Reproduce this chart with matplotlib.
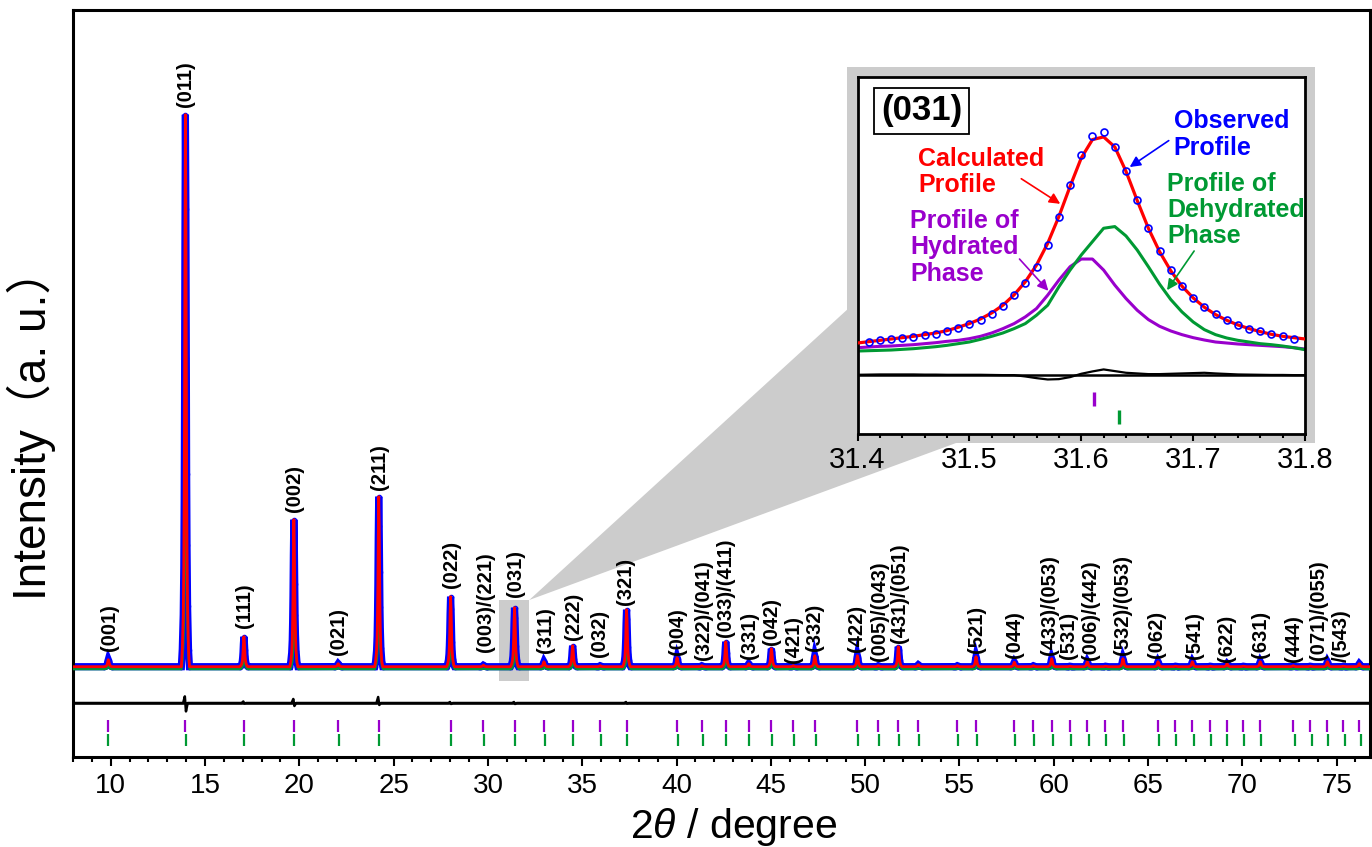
import numpy as np
import matplotlib
matplotlib.use("Agg")
import matplotlib.pyplot as plt
from matplotlib.patches import Rectangle, Polygon

plt.rcParams['font.family'] = ['Liberation Sans', 'Noto Sans CJK SC', 'DejaVu Sans']
plt.rcParams['mathtext.fontset'] = 'custom'
plt.rcParams['mathtext.it'] = 'Liberation Sans:italic'
plt.rcParams['mathtext.rm'] = 'Liberation Sans'

# ---------------- data : main pattern ----------------
background = 1000
# reflection positions of the hydrated phase (purple ticks)
hyd_ticks = [9.87, 13.96, 17.06, 19.71, 22.06, 24.21, 28.02, 29.76, 31.41, 32.97,
             34.49, 35.95, 37.35, 40.03, 41.34, 42.61, 43.83, 45.03, 46.19, 47.33,
             49.59, 50.70, 51.76, 52.82, 54.89, 55.88, 57.91, 58.92, 59.89, 60.85,
             61.78, 62.74, 63.67, 65.53, 66.45, 67.35, 68.29, 69.19, 70.05, 70.95,
             72.70, 73.59, 74.51, 75.35, 76.20]
# reflection positions of the dehydrated phase (green ticks)
dehyd_ticks = [9.88, 13.97, 17.07, 19.74, 22.08, 24.22, 28.04, 29.78, 31.44, 33.01,
               34.52, 35.98, 37.38, 40.07, 41.38, 42.63, 43.85, 45.07, 46.22, 47.37,
               49.62, 50.74, 51.81, 52.87, 54.95, 55.95, 57.97, 58.98, 59.95, 60.89,
               61.85, 62.79, 63.72, 65.57, 66.51, 67.44, 68.33, 69.21, 70.11, 71.01,
               72.81, 73.67, 74.56, 75.44, 76.29]
# peak heights above background at each reflection
peak_height = [700, 55200, 3000, 14700, 300, 17000, 7000, 150, 5900, 500,
               2100, 100, 5700, 900, 100, 2500, 300, 1800, 100, 1100,
               1100, 100, 2000, 200, 100, 1000, 450, 100, 800, 50,
               500, 50, 800, 500, 50, 500, 50, 300, 50, 500,
               100, 50, 500, 50, 300]
dehyd_share = 0.5
# peak profile (offset in degrees, fraction of height) read from the (031) inset
shape_offset = [-0.215, -0.165, -0.115, -0.085, -0.065, -0.045, -0.025, 0.0,
                0.025, 0.045, 0.065, 0.085, 0.115, 0.165, 0.215]
shape_frac = [0.0, 0.032, 0.094, 0.18, 0.30, 0.48, 0.76, 1.0,
              0.83, 0.56, 0.35, 0.22, 0.11, 0.03, 0.0]

# difference curve
diff_level = -2630
diff_pos = [13.96, 17.06, 19.71, 24.21, 28.02, 31.41, 37.35]
diff_up = [660, 150, 400, 600, 100, 100, 100]
diff_down = [840, 50, 300, 200, 100, 100, 50]

hyd_tick_y = -4930
dehyd_tick_y = -6280

# reflection labels
label_text = ['(001)', '(011)', '(111)', '(002)', '(021)', '(211)', '(022)', '(003)/(221)',
              '(031)', '(311)', '(222)', '(032)', '(321)', '(004)', '(322)/(041)',
              '(033)/(411)', '(331)', '(042)', '(421)', '(332)', '(422)', '(005)/(043)',
              '(431)/(051)', '(521)', '(044)', '(433)/(053)', '(531)', '(006)/(442)',
              '(532)/(053)', '(062)', '(541)', '(622)', '(631)', '(444)', '(071)/(055)',
              '/(543)']
label_x = [9.91, 13.99, 17.07, 19.72, 22.10, 24.23, 28.08, 29.85, 31.44, 33.03,
           34.53, 35.94, 37.32, 40.04, 41.42, 42.61, 43.86, 45.01, 46.19, 47.34,
           49.55, 50.74, 51.80, 55.92, 57.91, 59.80, 60.81, 61.96, 63.64, 65.46,
           67.44, 69.14, 70.98, 72.74, 74.05, 75.27]
label_y = [2600, 56970, 4870, 16500, 2170, 18700, 8870, 2470, 7970, 2400,
           3650, 2000, 7170, 2170, 1670, 4000, 1740, 3170, 1400, 2570,
           2500, 1600, 3340, 2340, 1840, 2170, 1740, 1670, 2170, 1840,
           1740, 1500, 1840, 1500, 1670, 1500]

zoom_box_x = (30.59, 32.19)
zoom_box_y = (-430, 7670)

# ---------------- data : inset (031) ----------------
in_obs_x = [round(31.41 + 0.01 * i, 2) for i in range(39)]
in_obs_y = [1000, 1050, 1080, 1120, 1150, 1200, 1250, 1330, 1430, 1550,
            1670, 1830, 2070, 2390, 2770, 3250, 3900, 4730, 5700, 6600,
            7170, 7280, 6830, 6120, 5250, 4420, 3720, 3150, 2680, 2330,
            2050, 1830, 1670, 1520, 1400, 1320, 1230, 1170, 1100]
in_x = [round(31.40 + 0.01 * i, 2) for i in range(41)]
in_calc = [970, 1010, 1050, 1090, 1130, 1170, 1220, 1270, 1340, 1440,
           1550, 1690, 1870, 2100, 2410, 2800, 3300, 3950, 4750, 5650,
           6500, 7050, 7130, 6830, 6100, 5230, 4400, 3700, 3130, 2670,
           2320, 2040, 1820, 1650, 1510, 1400, 1310, 1230, 1170, 1130, 1090]
in_hyd = [830, 850, 870, 880, 900, 920, 950, 980, 1020, 1050,
          1100, 1170, 1270, 1400, 1550, 1750, 2000, 2400, 2850, 3250,
          3480, 3480, 3150, 2700, 2300, 1950, 1670, 1470, 1330, 1220,
          1130, 1060, 1000, 970, 940, 920, 900, 880, 860, 830, 790]
in_dehyd = [730, 740, 750, 760, 780, 800, 830, 860, 900, 950,
            1000, 1080, 1170, 1270, 1400, 1550, 1800, 2100, 2650, 3150,
            3600, 4000, 4400, 4450, 4170, 3750, 3250, 2730, 2270, 1900,
            1600, 1370, 1220, 1120, 1050, 1000, 950, 920, 880, 830, 770]
in_diff = [20, 25, 30, 30, 30, 30, 25, 25, 20, 20,
           20, 20, 15, 10, 10, -30, -80, -120, -110, -50,
           50, 120, 180, 130, 80, 60, 40, 40, 50, 60,
           70, 80, 60, 45, 30, 25, 20, 15, 15, 10, 10]
in_hyd_tick = 31.6115
in_dehyd_tick = 31.6333
in_hyd_tick_y = -700
in_dehyd_tick_y = -1250

# ---------------- styles ----------------
RED = '#ff0000'
BLUE = '#0000ff'
GREEN = '#009933'
PURPLE = '#9900cc'
GRAY = '#cccccc'

W, H = 1372, 847


def fx(px):
    return px / W


def fy(py):
    return 1 - py / H


fig = plt.figure(figsize=(W / 100, H / 100), dpi=100)
ax = fig.add_axes([fx(73), fy(757), fx(1370) - fx(73), fy(10) - fy(757)])
ax.set_xlim(8.0, 76.77)
ax.set_ylim(-8030, 66670)

# build profiles from the peak table
xs = [8.0]
ys = [background]
for p, h in zip(hyd_ticks, peak_height):
    for o, f in zip(shape_offset, shape_frac):
        xs.append(p + o)
        ys.append(background + h * f)
xs.append(76.77)
ys.append(background)

gx = [8.0]
gy = [background - 250]
for p, h in zip(dehyd_ticks, peak_height):
    for o, f in zip(shape_offset, shape_frac):
        gx.append(p + o)
        gy.append(background - 250 + dehyd_share * h * f)
gx.append(76.77)
gy.append(background - 250)

ax.plot(xs, ys, color=BLUE, lw=5.2, solid_joinstyle='miter', zorder=2,
        marker='o', ms=3, mfc='none', mec=BLUE, mew=1.0)
ax.plot(gx, gy, color=GREEN, lw=1.6, zorder=3)
ax.plot(xs, ys, color=RED, lw=2.0, zorder=4)

# difference curve
dx = [8.0]
dy = [diff_level]
for p, u, d in zip(diff_pos, diff_up, diff_down):
    dx += [p - 0.12, p - 0.03, p + 0.03, p + 0.12]
    dy += [diff_level, diff_level + u, diff_level - d, diff_level]
dx.append(76.77)
dy.append(diff_level)
ax.plot(dx, dy, color='black', lw=1.8, zorder=4)

# reflection ticks
ax.plot(hyd_ticks, [hyd_tick_y] * len(hyd_ticks), ls='none', marker='|',
        ms=8, mew=1.6, color=PURPLE, zorder=4)
ax.plot(dehyd_ticks, [dehyd_tick_y] * len(dehyd_ticks), ls='none', marker='|',
        ms=8, mew=1.6, color=GREEN, zorder=4)

# labels
for t, x, y in zip(label_text, label_x, label_y):
    ax.text(x, y, t, rotation=90, ha='center', va='bottom', fontsize=14.5,
            fontweight='bold', zorder=5)

# zoom box
ax.add_patch(Rectangle((zoom_box_x[0], zoom_box_y[0]), zoom_box_x[1] - zoom_box_x[0],
                       zoom_box_y[1] - zoom_box_y[0], facecolor=GRAY, edgecolor='none',
                       zorder=1))

# frame behind the inset and cone
fr_x0, fr_y0 = fx(847), fy(443)
fr_w, fr_h = fx(1315) - fx(847), fy(66.7) - fy(443)
fig.canvas.draw()
vtx_disp = ax.transData.transform((zoom_box_x[1], zoom_box_y[1]))
vtx = fig.transFigure.inverted().transform(vtx_disp)
cone = Polygon([tuple(vtx), (fr_x0, fr_y0 + 0.354 * fr_h), (fr_x0 + 0.233 * fr_w, fr_y0)],
               closed=True, transform=fig.transFigure, facecolor=GRAY, edgecolor='none',
               zorder=1, clip_on=False)
ax.add_patch(cone)
ax.add_patch(Rectangle((fr_x0, fr_y0), fr_w, fr_h, transform=fig.transFigure,
                       facecolor=GRAY, edgecolor='none', zorder=1, clip_on=False))

# axes styling
for s in ax.spines.values():
    s.set_linewidth(2.2)
ax.set_yticks([])
ax.set_xticks(range(10, 80, 5))
ax.set_xticks(range(8, 77), minor=True)
ax.tick_params(axis='x', which='major', direction='out', length=6.5, width=1.5,
               labelsize=20, pad=5)
ax.tick_params(axis='x', which='minor', direction='out', length=3.4, width=1.5)
ax.axhline(diff_level, color='black', lw=1.8, zorder=3)

fig.text(fx(734), fy(838), r'2$\mathit{\theta}$ / degree', ha='center', va='baseline',
         fontsize=29.5)
fig.text(fx(31), fy(600), 'Intensity（a. u.）', rotation=90, ha='center', va='bottom',
         fontsize=33)

# ---------------- inset ----------------
axi = fig.add_axes([fx(857.5), fy(434), fx(1305) - fx(857.5), fy(76.7) - fy(434)])
axi.set_zorder(2)
axi.set_xlim(31.4, 31.8)
axi.set_ylim(-1750, 8930)
axi.plot(in_x, in_hyd, color=PURPLE, lw=2.2, zorder=2)
axi.plot(in_x, in_dehyd, color=GREEN, lw=2.2, zorder=2)
axi.plot(in_x, in_calc, color=RED, lw=2.3, zorder=3)
axi.plot(in_obs_x, in_obs_y, ls='none', marker='o', ms=5, mfc='none', mec=BLUE,
         mew=1.2, zorder=4)
axi.axhline(0, color='black', lw=1.8, zorder=2)
axi.plot(in_x, in_diff, color='black', lw=1.6, zorder=2)
axi.plot([in_hyd_tick], [in_hyd_tick_y], marker='|', ms=10.5, mew=2.4, color=PURPLE)
axi.plot([in_dehyd_tick], [in_dehyd_tick_y], marker='|', ms=10.5, mew=2.4, color=GREEN)

for s in axi.spines.values():
    s.set_linewidth(2.0)
axi.set_yticks([])
axi.set_xticks([31.4, 31.5, 31.6, 31.7, 31.8])
axi.set_xticklabels(['31.4', '31.5', '31.6', '31.7', '31.8'])
axi.set_xticks(np.arange(31.40, 31.801, 0.02), minor=True)
axi.tick_params(axis='x', which='major', direction='out', length=5, width=1.5,
                labelsize=21, pad=4)
axi.tick_params(axis='x', which='minor', direction='out', length=2.6, width=1.5)

axi.text(31.4572, 7905, '(031)', ha='center', va='center', fontsize=25, fontweight='bold',
         bbox=dict(boxstyle='square,pad=0.2', facecolor='white', edgecolor='black', lw=1.3))

fs = 18
for txt, y in zip(['Calculated', 'Profile'], [6250, 5480]):
    axi.text(31.454, y, txt, color=RED, fontsize=fs, fontweight='bold', va='baseline')
for txt, y in zip(['Observed', 'Profile'], [7400, 6600]):
    axi.text(31.6827, y, txt, color=BLUE, fontsize=fs, fontweight='bold', va='baseline')
for txt, y in zip(['Profile of', 'Dehydrated', 'Phase'], [5500, 4730, 3950]):
    axi.text(31.6767, y, txt, color=GREEN, fontsize=fs, fontweight='bold', va='baseline')
for txt, y in zip(['Profile of', 'Hydrated', 'Phase'], [4420, 3620, 2830]):
    axi.text(31.4473, y, txt, color=PURPLE, fontsize=fs, fontweight='bold', va='baseline')

arrows = [((31.5464, 5880), (31.5812, 5130), RED),
          ((31.6782, 7020), (31.6433, 6230), BLUE),
          ((31.7009, 3720), (31.6767, 2550), GREEN),
          ((31.5448, 3480), (31.5706, 2530), PURPLE)]
for (x0, y0), (x1, y1), c in arrows:
    axi.annotate('', xy=(x1, y1), xytext=(x0, y0),
                 arrowprops=dict(arrowstyle='-|>', color=c, lw=1.2, mutation_scale=16,
                                 shrinkA=0, shrinkB=0))

fig.savefig('out.png', dpi=100)
